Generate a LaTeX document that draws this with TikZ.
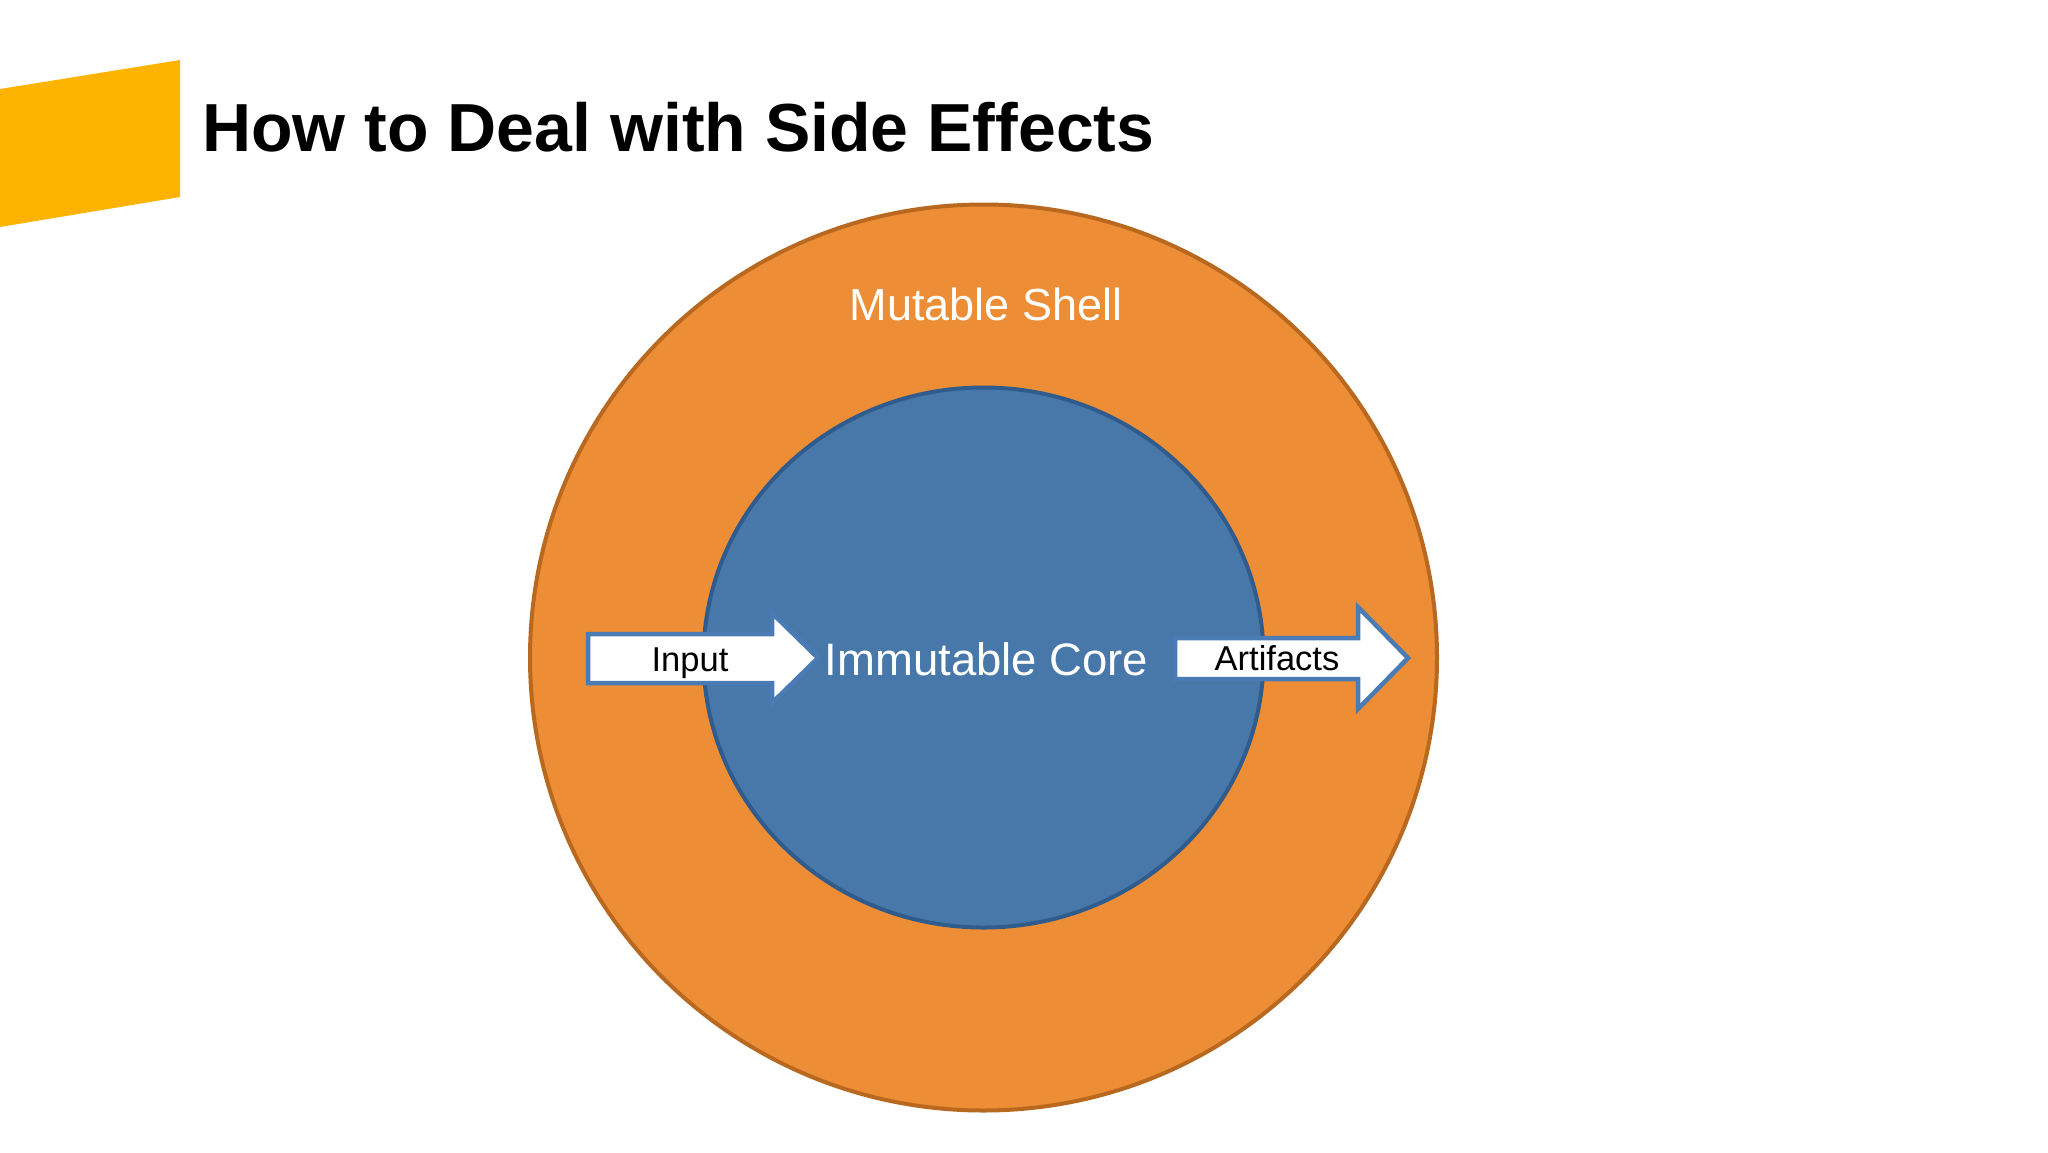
\documentclass[tikz,border=0pt]{standalone}
\usepackage{fontspec}
\setmainfont{Liberation Sans}
\definecolor{bannercol}{HTML}{FDB400}
\definecolor{shellfill}{HTML}{ED8D36}
\definecolor{shelldraw}{HTML}{B8681F}
\definecolor{corefill}{HTML}{4878AA}
\definecolor{coredraw}{HTML}{2F5C8C}
\definecolor{arrowdraw}{HTML}{4A7BB5}
\tikzset{
  shellshape/.style={fill=shellfill, draw=shelldraw, line width=4pt},
  coreshape/.style={fill=corefill, draw=coredraw, line width=4pt},
  bigarrow/.style={fill=white, draw=arrowdraw, line width=4.5pt, line join=miter},
  lbl/.style={anchor=base, inner sep=0pt},
}
\begin{document}
\begin{tikzpicture}[x=1pt,y=-1pt]
\useasboundingbox (0,0) rectangle (2048,1152);
\fill[white] (0,0) rectangle (2048,1152);
% yellow banner
\fill[fill=bannercol] (0,89) -- (180,60) -- (180,197) -- (0,227) -- cycle;
\node[anchor=base west, inner sep=0pt, font=\fontsize{68}{80}\selectfont\bfseries] (title) at (202,151) {How to Deal with Side Effects};
% circles
\path[shellshape] (983.5,657.5) ellipse [x radius=453.5, y radius=453];
\path[coreshape] (983.5,657.5) ellipse [x radius=280, y radius=270];
\node[lbl, text=white, font=\fontsize{45}{54}\selectfont] (shell) at (986,320) {Mutable Shell};
\node[lbl, text=white, font=\fontsize{45.5}{54}\selectfont] (core) at (986.5,675) {Immutable Core};
% input arrow
\draw[bigarrow] (588,634) -- (772,634) -- (772,613) -- (818,658) -- (772,703) -- (772,683) -- (588,683) -- cycle;
\node[lbl, font=\fontsize{34.5}{42}\selectfont] (input) at (690,671) {Input};
% artifacts arrow
\draw[bigarrow] (1175,638) -- (1358,638) -- (1358,607) -- (1408,658) -- (1358,709) -- (1358,679) -- (1175,679) -- cycle;
\node[lbl, font=\fontsize{34.5}{42}\selectfont] (artifacts) at (1277,670) {Artifacts};
\end{tikzpicture}
\end{document}
